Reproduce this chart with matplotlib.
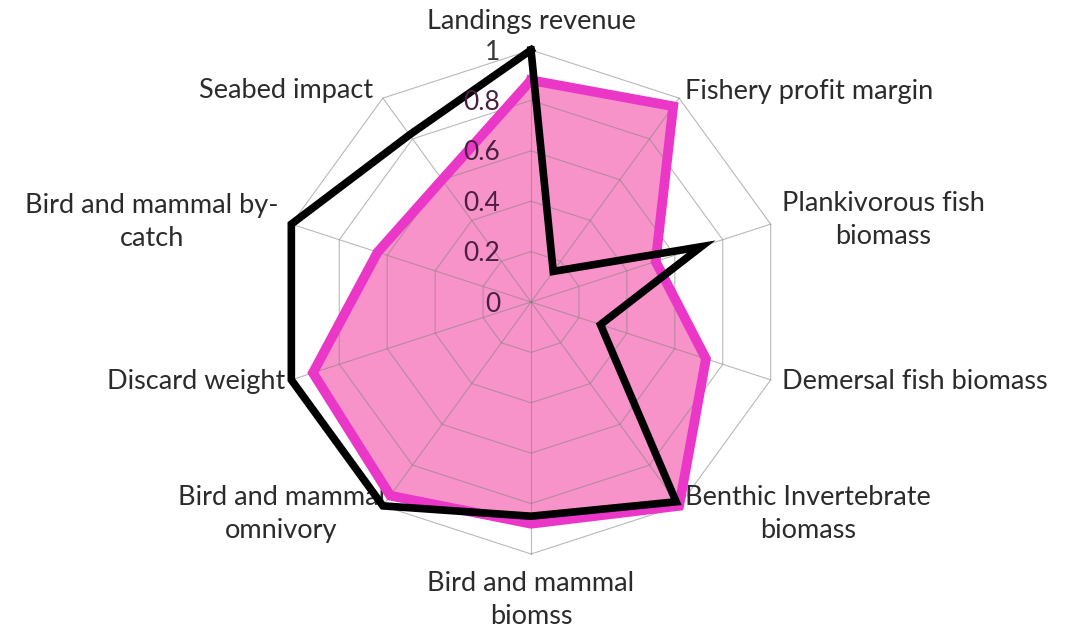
import numpy as np
import matplotlib
matplotlib.use("Agg")
import matplotlib.pyplot as plt

plt.rcParams['font.family'] = ['Lato', 'DejaVu Sans']

categories = ['Landings revenue', 'Fishery profit margin', 'Plankivorous fish\nbiomass',
              'Demersal fish biomass', 'Benthic Invertebrate\nbiomass', 'Bird and mammal\nbiomss',
              'Bird and mammal\nomnivory', 'Discard weight', 'Bird and mammal by-\ncatch',
              'Seabed impact']
pink_vals = [0.88, 0.96, 0.52, 0.73, 1.0, 0.88, 0.95, 0.91, 0.64, 0.60]
black_vals = [1.0, 0.15, 0.71, 0.29, 0.98, 0.85, 1.0, 1.0, 1.0, 0.82]
ring_levels = [0.2, 0.4, 0.6, 0.8, 1.0]
tick_labels = ['0', '0.2', '0.4', '0.6', '0.8', '1']

# label placement: (ha, dx, dy) in pixels from the outer vertex
label_pos = [('center', 0, 29), ('left', 6, 7), ('left', 11, 4), ('left', 11, -2),
             ('left', 6, -8), ('center', 0, -46), ('right', 2, -8), ('right', -6, -2),
             ('right', -13, 2), ('right', -10, 8)]

n = len(categories)
theta = np.linspace(0, 2 * np.pi, n, endpoint=False)
theta_c = np.append(theta, theta[0])

fig = plt.figure(figsize=(10.66, 6.31), dpi=100)
ax = fig.add_axes([279 / 1066, 77 / 631, 504 / 1066, 504 / 631], projection='polar')
ax.set_theta_offset(np.pi / 2)
ax.set_theta_direction(-1)
ax.set_ylim(0, 1)
ax.axis('off')

# polygon grid
for lv in ring_levels:
    ax.plot(theta_c, [lv] * (n + 1), color='#808080', lw=0.8, alpha=0.55, zorder=3, clip_on=False)
for t in theta:
    ax.plot([t, t], [0, 1], color='#808080', lw=0.8, alpha=0.55, zorder=3, clip_on=False)

# pink area series
pink_c = pink_vals + pink_vals[:1]
ax.fill(theta_c, pink_c, color='#F893C9', zorder=2, clip_on=False)
ax.plot(theta_c, pink_c, color='#EB37C8', lw=7, zorder=4, clip_on=False,
        solid_joinstyle='miter')

# black series
black_c = black_vals + black_vals[:1]
ax.plot(theta_c, black_c, color='black', lw=5.5, zorder=5, clip_on=False,
        solid_joinstyle='miter')

# radial tick labels
r_ticks = [0.0] + ring_levels
for r, lab in zip(r_ticks, tick_labels):
    col = '#3a3a3a' if r == 1.0 else '#4a2040'
    ax.annotate(lab, xy=(0, r), xytext=(-31, -2), textcoords='offset pixels',
                ha='right', va='center', fontsize=19, color=col, zorder=6)

# category labels
for t, lab, (ha, dx, dy) in zip(theta, categories, label_pos):
    ax.annotate(lab, xy=(t, 1.0), xytext=(dx, dy), textcoords='offset pixels',
                ha=ha, va='center', multialignment='center', fontsize=19.5,
                color='#2b2b2b', linespacing=1.38, annotation_clip=False)

fig.savefig('out.png', dpi=100, facecolor='white')
